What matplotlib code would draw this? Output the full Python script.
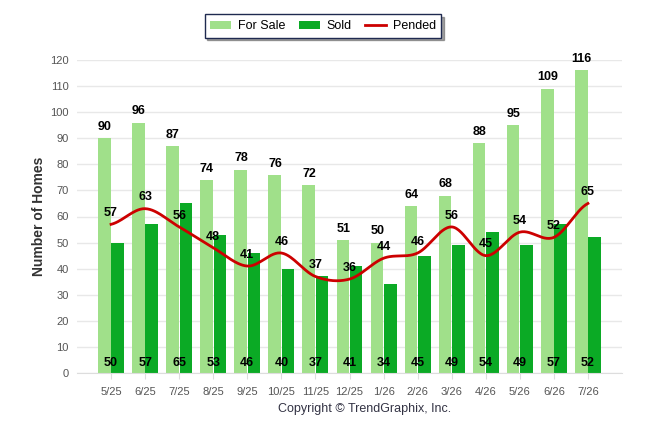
import matplotlib
matplotlib.use("Agg")
import matplotlib.pyplot as plt
import numpy as np

months = ['5/25', '6/25', '7/25', '8/25', '9/25', '10/25', '11/25', '12/25',
          '1/26', '2/26', '3/26', '4/26', '5/26', '6/26', '7/26']
for_sale = [90, 96, 87, 74, 78, 76, 72, 51, 50, 64, 68, 88, 95, 109, 116]
sold = [50, 57, 65, 53, 46, 40, 37, 41, 34, 45, 49, 54, 49, 57, 52]
pended = [57, 63, 56, 48, 41, 46, 37, 36, 44, 46, 56, 45, 54, 52, 65]

plt.rcParams['font.family'] = ['Liberation Sans', 'DejaVu Sans']


def smooth(xs, ys, steps=30):
    # catmull-rom curve through the points, like the smoothed line in the original
    xs = np.asarray(xs, float)
    ys = np.asarray(ys, float)
    px = np.concatenate([[2 * xs[0] - xs[1]], xs, [2 * xs[-1] - xs[-2]]])
    py = np.concatenate([[ys[0]], ys, [ys[-1]]])
    outx, outy = [], []
    t = np.linspace(0, 1, steps)
    for i in range(1, len(px) - 2):
        for p, out in ((px, outx), (py, outy)):
            p0, p1, p2, p3 = p[i - 1], p[i], p[i + 1], p[i + 2]
            out.extend(0.5 * (2 * p1 + (-p0 + p2) * t
                              + (2 * p0 - 5 * p1 + 4 * p2 - p3) * t ** 2
                              + (-p0 + 3 * p1 - 3 * p2 + p3) * t ** 3))
    return np.array(outx), np.array(outy)


fig = plt.figure(figsize=(6.46, 4.34), dpi=100)
ax = fig.add_axes([77 / 646, 61 / 434, 545 / 646, 313 / 434])

x = np.arange(len(months))
w = 0.37
c_sale = '#A0E08A'
c_sold = '#0BAA25'
c_pend = '#CC0000'

b1 = ax.bar(x - w / 2 - 0.01, for_sale, w, color=c_sale, label='For Sale', zorder=2)
b2 = ax.bar(x + w / 2 + 0.01, sold, w, color=c_sold, label='Sold', zorder=2)
sx, sy = smooth(x, pended)
l1, = ax.plot(sx, sy, color=c_pend, lw=2, label='Pended', zorder=3)

for i in x:
    ax.text(i - w / 2, for_sale[i] + 2, str(for_sale[i]), ha='center', va='bottom',
            fontsize=9, fontweight='bold', color='black', zorder=4)
    ax.text(i, 1.5, str(sold[i]), ha='center', va='bottom',
            fontsize=9, fontweight='bold', color='black', zorder=4)
    ax.text(i, pended[i] + 2, str(pended[i]), ha='center', va='bottom',
            fontsize=9, fontweight='bold', color='black', zorder=4)

ax.set_xlim(-1, 15)
ax.set_ylim(0, 120)
ax.set_yticks(range(0, 121, 10))
ax.set_xticks(x)
ax.set_xticklabels(months)
ax.tick_params(axis='both', labelsize=8, labelcolor='#555555', colors='#DDDDDD')
ax.tick_params(axis='y', length=0, pad=6)
ax.tick_params(axis='x', length=4, pad=6)
ax.grid(axis='y', color='#E8E8E8', lw=1, zorder=0)
for side in ('top', 'right', 'left'):
    ax.spines[side].set_visible(False)
ax.spines['bottom'].set_color('#DDDDDD')

ax.set_ylabel('Number of Homes', fontsize=10, fontweight='bold', color='#333333',
              labelpad=3)

leg = fig.legend([b1, b2, l1], ['For Sale', 'Sold', 'Pended'], loc='center',
                 bbox_to_anchor=(0.5, 1 - 26 / 434), ncol=3,
                 fontsize=9, frameon=True, fancybox=False, shadow=True,
                 handlelength=1.7, handleheight=0.6, columnspacing=1.1,
                 handletextpad=0.5, borderpad=0.45)
leg.get_frame().set_edgecolor('#1F2A50')
leg.get_frame().set_linewidth(1)

fig.text(0.565, 1 - 409 / 434, 'Copyright \u00a9 TrendGraphix, Inc.', ha='center',
         va='center', fontsize=9, color='#333344')

fig.savefig('out.png', dpi=100)
